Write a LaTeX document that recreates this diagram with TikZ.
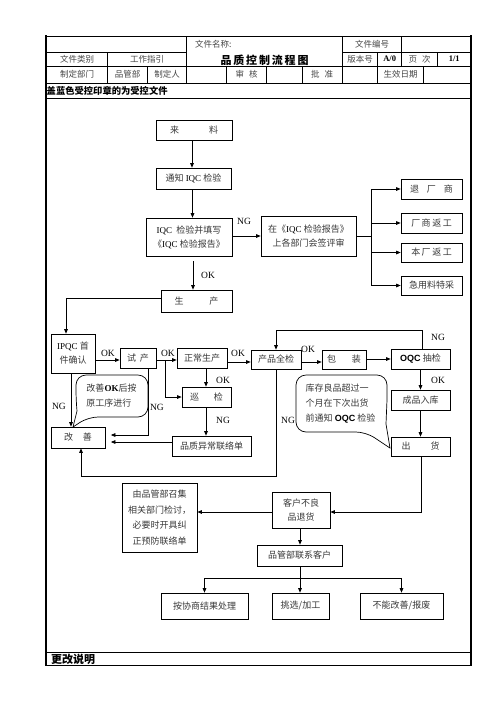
\documentclass[tikz,border=0pt]{standalone}
\usepackage{fontspec}
\setmainfont{Noto Sans CJK SC}
\newfontfamily\tms{Liberation Serif}
\newfontfamily\arl{Liberation Sans}
\usetikzlibrary{arrows.meta}
\newcommand\ltn[1]{{\tms\color{black}#1}}
\tikzset{
  tl/.style={line width=0.6pt},
  thk/.style={line width=2pt},
  ln/.style={line width=0.7pt},
  arr/.style={line width=0.7pt,-{Triangle[length=4.5pt,width=3.6pt]}},
  bx/.style={draw,line width=0.7pt,inner sep=1pt,align=center,text=black!78,
             font=\fontsize{9}{14}\selectfont},
  hd/.style={inner sep=0pt,text=black!72,font=\fontsize{8.5}{10}\selectfont},
  hdl/.style={inner sep=0pt,font=\tms\bfseries\fontsize{8.5}{10}\selectfont},
  ttl/.style={inner sep=0pt,font=\bfseries\fontsize{11}{12}\selectfont},
  bld/.style={inner sep=0pt,anchor=west,font=\bfseries\fontsize{9.3}{11}\selectfont},
  lbl/.style={inner sep=0pt,font=\tms\fontsize{9.5}{11}\selectfont},
  callout/.style={line width=0.7pt},
  ctext/.style={inner sep=0pt,align=left,text=black!78,font=\fontsize{9}{15}\selectfont},
}
\begin{document}
\begin{tikzpicture}[x=1pt,y=-1pt]
\useasboundingbox[fill=white] (0,0) rectangle (496,702);
% ---------- header table ----------
\draw[tl] (46,36.3) -- (471,36.3);
\draw[tl] (46,52) -- (186.7,52);
\draw[tl] (342.3,52) -- (471,52);
\draw[tl] (46,66.3) -- (471,66.3);
\draw[tl] (46,83) -- (471,83);
\draw[tl] (46,98) -- (471,98);
\draw[tl] (46,652) -- (471,652);
\draw[tl] (46,665) -- (471,665);
\draw[thk] (46,35.3) -- (46,666);
\draw[thk] (471,35.3) -- (471,666);
\draw[tl] (107.7,52) -- (107.7,83);
\draw[tl] (147.7,66.3) -- (147.7,83);
\draw[tl] (186.7,36.3) -- (186.7,83);
\draw[tl] (226.7,66.3) -- (226.7,83);
\draw[tl] (266.7,66.3) -- (266.7,83);
\draw[tl] (302,66.3) -- (302,83);
\draw[tl] (342.3,36.3) -- (342.3,83);
\draw[tl] (377.7,52) -- (377.7,83);
\draw[tl] (401.7,36.3) -- (401.7,66.3);
\draw[tl] (437.7,52) -- (437.7,66.3);
\draw[tl] (423.3,66.3) -- (423.3,83);
\node[hd] (h1) at (77,59.2) {文件类别};
\node[hd] (h2) at (147.2,59.2) {工作指引};
\node[hd,anchor=west] (h3) at (195,44.2) {文件名称:};
\node[ttl] (h4) at (264.5,60) {品\,质\,控\,制\,流\,程\,图};
\node[hd] (h5) at (372,44.2) {文件编号};
\node[hd] (h6) at (360,59.2) {版本号};
\node[hdl] (h7) at (389.7,59.2) {A/0};
\node[hd] (h8) at (419.7,59.2) {页\hspace{5pt}次};
\node[hdl] (h9) at (454.3,59.2) {1/1};
\node[hd] (h10) at (77,74.7) {制定部门};
\node[hd] (h11) at (127.7,74.7) {品管部};
\node[hd] (h12) at (167.2,74.7) {制定人};
\node[hd] (h13) at (246.7,74.7) {审\hspace{5pt}核};
\node[hd] (h14) at (322.2,74.7) {批\hspace{5pt}准};
\node[hd] (h15) at (400.5,74.7) {生效日期};
\node[bld] (h16) at (46.5,90.6) {盖蓝色受控印章的为受控文件};
\node[bld,font=\bfseries\fontsize{11}{12}\selectfont] (h17) at (51,659) {更改说明};
% ---------- flow boxes ----------
\node[bx,minimum width=76pt,minimum height=20pt] (laoliao) at (194,130) {来\hspace{30pt}料};
\node[bx,minimum width=75pt,minimum height=21pt] (tongzhi) at (193.5,178.5) {通知 \ltn{IQC} 检验};
\node[bx,minimum width=86pt,minimum height=38pt] (iqc) at (189,237) {\ltn{IQC}\ \ 检验并填写\\《\ltn{IQC} 检验报告》};
\node[bx,minimum width=95pt,minimum height=40pt] (pingshen) at (308.5,236) {在《\ltn{IQC} 检验报告》\\上各部门会签评审};
\node[bx,minimum width=61pt,minimum height=20pt] (r1) at (431.5,189) {退\hspace{8pt}厂\hspace{8pt}商};
\node[bx,minimum width=61pt,minimum height=20pt] (r2) at (431.5,223) {厂\,商\,返\,工};
\node[bx,minimum width=61pt,minimum height=19pt] (r3) at (431.5,252.5) {本\,厂\,返\,工};
\node[bx,minimum width=61pt,minimum height=19pt] (r4) at (431.5,285.5) {急用料特采};
\node[bx,minimum width=71pt,minimum height=22pt] (shengchan) at (196.5,301) {生\hspace{26pt}产};
\node[bx,minimum width=44pt,minimum height=39pt] (ipqc) at (73,353.5) {\ltn{IPQC} 首\\件确认};
\node[bx,minimum width=36pt,minimum height=20pt] (shichan) at (138,358) {试\hspace{4pt}产};
\node[bx,minimum width=50pt,minimum height=20pt] (zhengchang) at (202,358) {正常生产};
\node[bx,minimum width=49pt,minimum height=20pt] (xunjian) at (206.5,397) {巡\hspace{15pt}检};
\node[bx,minimum width=79pt,minimum height=20pt] (yichang) at (211.5,446) {品质异常联络单};
\node[bx,minimum width=54pt,minimum height=21pt] (gaishan) at (78,437.5) {改\hspace{10pt}善};
\node[bx,minimum width=50pt,minimum height=19pt] (quanjian) at (276,359.5) {产品全检};
\node[bx,minimum width=44pt,minimum height=19pt] (baozhuang) at (344,359.5) {包\hspace{16pt}装};
\node[bx,minimum width=59pt,minimum height=20pt] (oqc) at (420.5,359) {{\arl\bfseries\color{black}OQC} 抽检};
\node[bx,minimum width=59pt,minimum height=20pt] (ruku) at (420.5,400) {成品入库};
\node[bx,minimum width=59pt,minimum height=19pt] (chuhuo) at (420.5,446.5) {出\hspace{20pt}货};
\node[bx,minimum width=58pt,minimum height=36pt] (kehu) at (301,510) {客户不良\\品退货};
\node[bx,minimum width=75pt,minimum height=69pt,font=\fontsize{9}{15.5}\selectfont] (zhaoji) at (159.5,517.5) {由品管部召集\\相关部门检讨，\\必要时开具纠\\正预防联络单};
\node[bx,minimum width=85pt,minimum height=21pt] (lianxi) at (299.5,555.5) {品管部联系客户};
\node[bx,minimum width=87pt,minimum height=26pt] (b1) at (204.5,606) {按协商结果处理};
\node[bx,minimum width=57pt,minimum height=26pt] (b2) at (300.5,606) {挑选/加工};
\node[bx,minimum width=83pt,minimum height=26pt] (b3) at (401.5,606) {不能改善/报废};
% ---------- callouts ----------
\draw[callout] (76,400) [rounded corners=10pt] -- (76,375) -- (148,375) -- (148,417) -- (88,417) [sharp corners] -- (73,427) -- (77,411) [rounded corners=10pt] -- cycle;
\node[ctext] (c1) at (111.5,395.5) {改善{\tms\bfseries\color{black}OK}后按\\原工序进行};
\draw[callout] (387,400) [rounded corners=10pt] -- (387,375) -- (296,375) -- (296,432) -- (366,432) [sharp corners] -- (390,448) -- (386,424) -- cycle;
\node[ctext] (c2) at (340.5,403.5) {库存良品超过一\\个月在下次出货\\前通知 {\arl\bfseries\color{black}OQC} 检验};
% ---------- connectors ----------
\coordinate (brR) at (371,236);
\coordinate (jL) at (66,298);
\coordinate (jS) at (165,360);
\coordinate (jN) at (276,330);
\coordinate (jB) at (81,476);
\coordinate (jK) at (300,578);
\draw[arr] (laoliao.south -| 192,0) -- (tongzhi.north -| 192,0);
\draw[arr] (tongzhi.south -| 192.5,0) -- (iqc.north -| 192.5,0);
\draw[arr] (iqc.east |- 0,236) -- (pingshen.west |- 0,236);
\draw[ln] (pingshen.east |- 0,236) -- (brR);
\draw[ln] (brR |- r1) -- (brR |- r4);
\draw[arr] (brR |- r1) -- (r1.west);
\draw[arr] (brR |- r2) -- (r2.west);
\draw[arr] (brR |- r3) -- (r3.west);
\draw[arr] (brR |- r4) -- (r4.west);
\draw[arr] ([yshift=-5pt]iqc.south -| 193,0) -- (shengchan.north -| 193,0);
\draw[arr] (shengchan.west |- jL) -- (jL) -- (ipqc.north -| jL);
\draw[arr] (ipqc.east |- 0,360) -- (shichan.west |- 0,360);
\draw[arr] (shichan.east |- jS) -- (zhengchang.west |- jS);
\draw[arr] (jS) -- (jS |- xunjian) -- (xunjian.west);
\draw[arr] (zhengchang.south -| 206,0) -- (xunjian.north -| 206,0);
\draw[arr] (xunjian.south -| 206,0) -- (yichang.north -| 206,0);
\draw[arr,shorten >=5.5pt] (yichang.west |- 0,442) -- (gaishan.east |- 0,442);
\draw[arr,shorten >=5.5pt] (shichan.south -| 148,0) -- (148,435) -- (gaishan.east |- 0,435);
\draw[arr] (ipqc.south -| 71,0) -- (gaishan.north -| 71,0);
\draw[arr] (quanjian.south) -- (quanjian.south |- jB) -- (jB) -- (gaishan.south -| jB);
\draw[arr] (zhengchang.east |- 0,362) -- (quanjian.west |- 0,362);
\draw[arr] (quanjian.east |- 0,362) -- (baozhuang.west |- 0,362);
\draw[arr] (baozhuang.east |- 0,359) -- (oqc.west |- 0,359);
\draw[arr] (oqc.north -| 422,0) -- (422,330) -- (jN) -- (quanjian.north);
\draw[arr] (oqc.south -| 420.5,0) -- (ruku.north -| 420.5,0);
\draw[arr] (ruku.south -| 420.5,0) -- (chuhuo.north -| 420.5,0);
\draw[arr] (chuhuo.south -| 421,0) -- (421,512) -- (kehu.east |- 0,512);
\draw[arr] (kehu.west |- 0,512) -- (zhaoji.east |- 0,512);
\draw[arr] (kehu.south -| jK) -- (lianxi.north -| jK);
\draw[ln] (lianxi.south -| jK) -- (jK);
\draw[ln] (b1.north |- jK) -- (b3.north |- jK);
\draw[arr] (b1.north |- jK) -- (b1.north);
\draw[arr] (jK) -- (b2.north -| jK);
\draw[arr] (b3.north |- jK) -- (b3.north);
% ---------- labels ----------
\node[lbl] (n1) at (244,221) {NG};
\node[lbl] (o1) at (208,275) {OK};
\node[lbl] (o2) at (108,353) {OK};
\node[lbl] (o3) at (168,353) {OK};
\node[lbl] (o4) at (238,353) {OK};
\node[lbl] (o5) at (308,349) {OK};
\node[lbl] (n2) at (438,337) {NG};
\node[lbl] (o6) at (223,380) {OK};
\node[lbl] (o7) at (438,380) {OK};
\node[lbl] (n3) at (59,406) {NG};
\node[lbl] (n4) at (157,407) {NG};
\node[lbl] (n5) at (223,420) {NG};
\node[lbl] (n6) at (288,420) {NG};
\end{tikzpicture}
\end{document}
